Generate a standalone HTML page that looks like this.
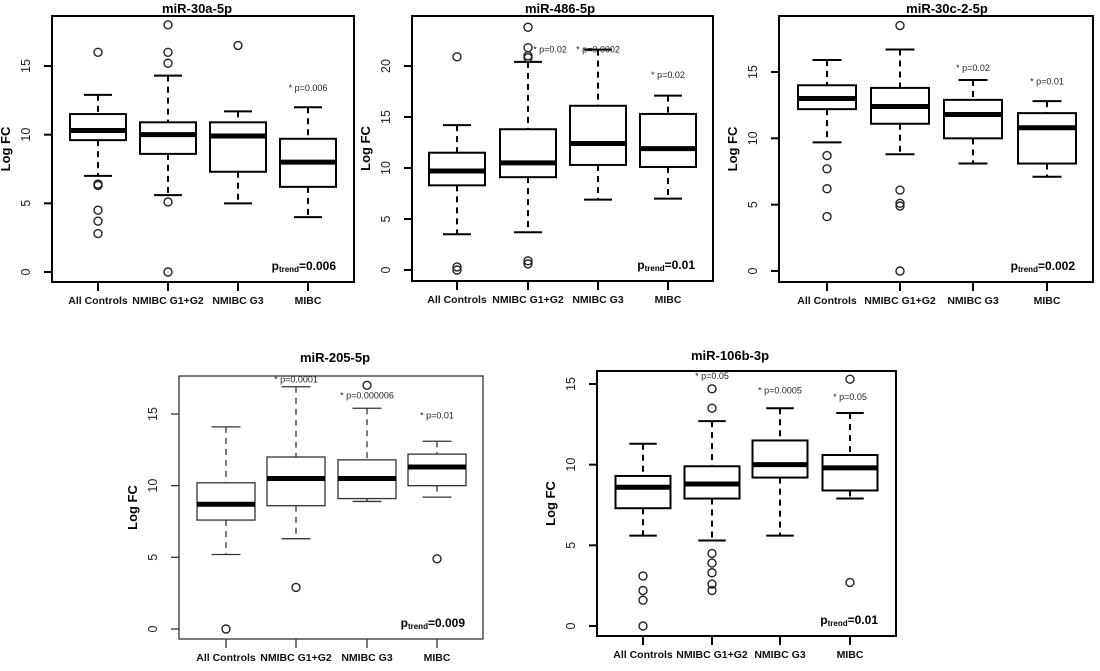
<!DOCTYPE html>
<html><head><meta charset="utf-8"><style>
html,body{margin:0;padding:0;background:#fff;}
svg{display:block;font-family:"Liberation Sans",sans-serif;}
</style></head><body>
<svg id="fig" width="1100" height="671" viewBox="0 0 1100 671"></svg>
<script>
const categories = ["All Controls","NMIBC G1+G2","NMIBC G3","MIBC"];
const titles = ["miR-30a-5p","miR-486-5p","miR-30c-2-5p","miR-205-5p","miR-106b-3p"];
const pTrends = ["0.006","0.01","0.002","0.009","0.01"];
const yTicks = [[0,5,10,15],[0,5,10,15,20],[0,5,10,15],[0,5,10,15],[0,5,10,15]];
// per-panel statistics: [controls, G1G2, G3, MIBC]
const lowerWhisker = [[7.0,5.6,5.0,4.0],[3.5,3.7,6.9,7.0],[9.7,8.8,8.1,7.1],[5.2,6.3,8.9,9.2],[5.6,5.3,5.6,7.9]];
const q1 = [[9.6,8.6,7.3,6.2],[8.3,9.1,10.3,10.1],[12.2,11.1,10.0,8.1],[7.6,8.6,9.1,10.0],[7.3,7.9,9.2,8.4]];
const medians = [[10.3,10.0,9.9,8.0],[9.7,10.5,12.4,11.9],[13.0,12.4,11.8,10.8],[8.7,10.5,10.5,11.3],[8.6,8.8,10.0,9.8]];
const q3 = [[11.5,10.9,10.9,9.7],[11.5,13.8,16.1,15.3],[14.0,13.8,12.9,11.9],[10.2,12.0,11.8,12.2],[9.3,9.9,11.5,10.6]];
const upperWhisker = [[12.9,14.3,11.7,12.0],[14.2,20.4,21.6,17.1],[15.9,16.7,14.4,12.8],[14.1,16.9,15.4,13.1],[11.3,12.7,13.5,13.2]];
const outliers = [
 [[16,6.4,6.3,4.5,3.7,2.8],[18,16,15.2,5.1,0],[16.5],[]],
 [[20.9,0.3,0],[23.8,21.8,21,20.8,0.9,0.6],[],[]],
 [[8.7,7.7,6.2,4.1],[18.5,6.1,5.1,4.9,0],[],[]],
 [[0],[2.9],[17],[4.9]],
 [[3.1,2.2,1.6,0],[14.7,13.5,4.5,3.9,3.3,2.6,2.2],[],[15.3,2.7]]
];
const sigText = [
 [null,null,null,"* p=0.006"],
 [null,"* p=0.02","* p=0.0002","* p=0.02"],
 [null,null,"* p=0.02","* p=0.01"],
 [null,"* p=0.0001","* p=0.000006","* p=0.01"],
 [null,"* p=0.05","* p=0.0005","* p=0.05"]
];
const sigY = [[0,0,0,13.4],[0,21.6,21.6,19.1],[0,0,15.3,14.3],[0,17.4,16.3,14.9],[0,15.5,14.6,14.2]];
const sigDx = [[0,0,0,0],[0,22,0,0],[0,0,0,0],[0,0,0,0],[0,0,0,0]];

// layout (pixels)
const layout = [
 {l:52,r:354,t:16,b:282,y0:272,y1:66,v1:15,xs:[98,168,238,308],bw:56,tx:197,ty:13,lw:2,col:"#000"},
 {l:412,r:713,t:16,b:281,y0:270,y1:66,v1:20,xs:[457,528,598,668],bw:56,tx:560,ty:13,lw:2,col:"#000"},
 {l:779,r:1093,t:16,b:282,y0:271,y1:72,v1:15,xs:[827,900,973,1047],bw:58,tx:947,ty:13,lw:2,col:"#000"},
 {l:179,r:483,t:376,b:639,y0:629,y1:414,v1:15,xs:[226,296,367,437],bw:58,tx:335,ty:362,lw:1.3,col:"#333"},
 {l:597,r:896,t:371,b:636,y0:626,y1:384,v1:15,xs:[643,712,780,850],bw:55,tx:730,ty:360,lw:2,col:"#000"}
];
const NS="http://www.w3.org/2000/svg";
const svg=document.getElementById('fig');
function mk(tag,attrs,parent,text){const e=document.createElementNS(NS,tag);for(const k in attrs)e.setAttribute(k,attrs[k]);if(text!==undefined)e.textContent=text;(parent||svg).appendChild(e);return e;}

layout.forEach((L,p)=>{
  const g=mk('g',{});
  
  
  const y=v=>L.y0-(v/L.v1)*(L.y0-L.y1);
  const c=L.col, lw=L.lw;
  const t=mk('text',{x:L.tx,y:L.ty,'text-anchor':'middle','font-size':13,'font-weight':'bold'},g,titles[p]);
  
  
  const fr=mk('rect',{x:L.l,y:L.t,width:L.r-L.l,height:L.b-L.t,fill:'none',stroke:c,'stroke-width':lw},g);
  
  
  yTicks[p].forEach(v=>{
    mk('line',{x1:L.l-8,x2:L.l,y1:y(v),y2:y(v),stroke:c,'stroke-width':lw},g);
    const tl=mk('text',{x:0,y:0,transform:`translate(${L.l-26},${y(v)}) rotate(-90)`,'text-anchor':'middle','dominant-baseline':'central','font-size':12.5,fill:'#222'},g,String(v));
    
    
  });
  const yl=mk('text',{x:0,y:0,transform:`translate(${L.l-42},${(L.t+L.b)/2}) rotate(-90)`,'text-anchor':'middle','font-size':13,'font-weight':'bold'},g,'Log FC');
  
  
  categories.forEach((cat,i)=>{
    const x=L.xs[i], h=L.bw/2;
    mk('line',{x1:x,x2:x,y1:L.b,y2:L.b+9,stroke:c,'stroke-width':lw},g);
    const cl=mk('text',{x:x,y:L.b+22,'text-anchor':'middle','font-size':10.5,'font-weight':'bold',fill:'#111'},g,cat);
    
    
    const bg=mk('g',{},g);
    
    
    mk('line',{x1:x,x2:x,y1:y(upperWhisker[p][i]),y2:y(q3[p][i]),stroke:c,'stroke-width':lw,'stroke-dasharray':'6,5'},bg);
    mk('line',{x1:x,x2:x,y1:y(q1[p][i]),y2:y(lowerWhisker[p][i]),stroke:c,'stroke-width':lw,'stroke-dasharray':'6,5'},bg);
    mk('line',{x1:x-h/2,x2:x+h/2,y1:y(upperWhisker[p][i]),y2:y(upperWhisker[p][i]),stroke:c,'stroke-width':lw},bg);
    mk('line',{x1:x-h/2,x2:x+h/2,y1:y(lowerWhisker[p][i]),y2:y(lowerWhisker[p][i]),stroke:c,'stroke-width':lw},bg);
    mk('rect',{x:x-h,y:y(q3[p][i]),width:L.bw,height:y(q1[p][i])-y(q3[p][i]),fill:'#fff',stroke:c,'stroke-width':lw},bg);
    mk('line',{x1:x-h,x2:x+h,y1:y(medians[p][i]),y2:y(medians[p][i]),stroke:'#000','stroke-width':5},bg);
    outliers[p][i].forEach(v=>{
      const o=mk('circle',{cx:x,cy:y(v),r:4,fill:'none',stroke:'#222','stroke-width':1.4},bg);
      
      
    });
    if(sigText[p][i]){
      const s=mk('text',{x:x+sigDx[p][i],y:y(sigY[p][i])+3,'text-anchor':'middle','font-size':9,fill:'#222'},g,sigText[p][i]);
      
      
    }
  });
  const pt=mk('text',{x:L.r-18,y:L.b-12,'text-anchor':'end','font-size':12,'font-weight':'bold'},g);
  
  
  mk('tspan',{},pt,'p');
  mk('tspan',{'font-size':8,dy:2},pt,'trend');
  mk('tspan',{dy:-2},pt,'='+pTrends[p]);
});
</script>
</body></html>
